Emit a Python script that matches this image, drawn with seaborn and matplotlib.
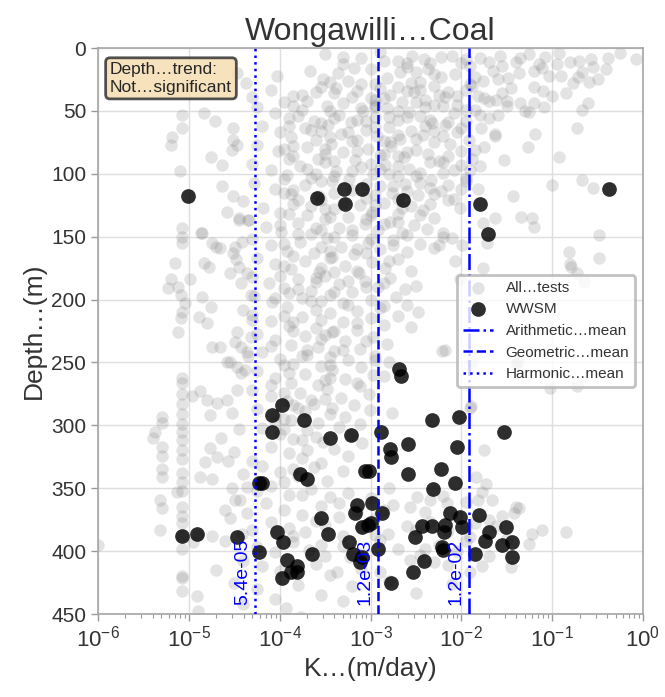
import matplotlib
matplotlib.use("Agg")
import numpy as np
import pandas as pd
import seaborn as sns
import matplotlib.pyplot as plt

# ---------------- data ----------------
title = "Wongawilli…Coal"
x_label = "K…(m/day)"
y_label = "Depth…(m)"
trend_text = "Depth…trend:\nNot…significant"
legend_all = "All…tests"
legend_wwsm = "WWSM"
mean_names = ["Arithmetic…mean", "Geometric…mean", "Harmonic…mean"]
mean_values = [1.2e-2, 1.2e-3, 5.4e-5]
mean_labels = ["1.2e-02", "1.2e-03", "5.4e-05"]

# all tests: (depth m, log10 K)
all_tests_0_30 = [(8,-3.10),(6,-2.54),(9,-2.41),(7,-2.22),(8,-1.80),(6,-1.57),(5,-1.26),(7,-1.08),(4,-0.93),(9,-0.57),(8,-0.38),(9,-0.08),(3,-2.90),(12,-2.00),(11,-1.40),(4,-0.25),(13,-3.30),(10,-2.70),(14,-1.90),(11,-0.80),(13,-1.15),(12,-2.35),
    (22,-4.03),(18,-3.67),(25,-3.52),(20,-3.36),(16,-3.18),(24,-2.82),(19,-2.68),(27,-2.45),(17,-2.37),(23,-2.22),(21,-2.07),(26,-1.76),(18,-1.65),(24,-1.49),(20,-1.36),(16,-1.11),(22,-1.03),(28,-0.77),(19,-0.67),(25,-0.49),(17,-0.41),(20,-4.47),(28,-4.37),(23,-0.72),(27,-0.60),(29,-2.95),(26,-3.25),(15,-2.60),(29,-1.90),(28,-2.55)]
all_tests_30_90 = [(33,-4.10),(38,-3.85),(42,-3.70),(31,-3.55),(36,-3.40),(44,-3.30),(34,-3.15),(40,-3.00),(32,-2.90),(37,-2.78),(43,-2.65),(35,-2.52),(41,-2.40),(30,-2.30),(39,-2.18),(45,-2.05),(33,-1.95),(38,-1.82),(42,-1.70),(36,-1.55),(44,-1.35),(31,-1.20),(38,-1.00),(43,-3.95),(35,-3.60),(40,-2.85),(34,-2.60),(45,-2.95),(37,-2.25),(41,-1.62),(32,-3.38),(39,-4.30),(44,-0.61),
    (47,-4.25),(52,-4.05),(56,-3.90),(49,-3.75),(58,-3.62),(46,-3.48),(53,-3.35),(59,-3.22),(50,-3.08),(55,-2.95),(48,-2.82),(57,-2.70),(51,-2.58),(54,-2.45),(60,-2.32),(46,-2.20),(52,-2.08),(58,-1.95),(49,-1.85),(56,-1.70),(53,-1.60),(47,-1.09),(51,-1.25),(49,-0.67),(53,-5.07),(52,-4.83),(58,-4.71),(57,-3.15),(55,-2.60),(60,-3.55),(47,-2.95),(50,-3.45),
    (62,-4.20),(67,-4.00),(71,-3.88),(64,-3.72),(73,-3.60),(61,-3.47),(68,-3.33),(74,-3.20),(65,-3.05),(70,-2.93),(63,-2.80),(72,-2.68),(66,-2.55),(69,-2.42),(75,-2.30),(61,-2.18),(67,-2.05),(73,-1.92),(64,-1.78),(70,-1.63),(68,-1.19),(71,-5.18),(64,-5.07),(64,-4.51),(73,-4.51),(64,-0.73),(68,-1.63),(66,-3.55),(74,-2.85),(62,-2.40),
    (77,-4.25),(82,-4.02),(86,-3.85),(79,-3.70),(88,-3.58),(76,-3.43),(83,-3.30),(89,-3.17),(80,-3.03),(85,-2.90),(78,-2.77),(87,-2.63),(81,-2.50),(84,-2.37),(90,-2.25),(76,-2.12),(82,-2.00),(88,-1.88),(79,-1.75),(77,-5.20),(87,-4.76),(77,-4.47),(81,-4.53),(79,-1.27),(89,-1.53),(87,-0.92),(84,-3.50),(86,-2.70),(80,-3.95)]
all_tests_90_165 = [(92,-4.30),(97,-4.10),(101,-3.92),(94,-3.78),(103,-3.65),(91,-3.50),(98,-3.38),(104,-3.24),(95,-3.10),(100,-2.97),(93,-2.84),(102,-2.70),(96,-2.58),(99,-2.45),(105,-2.33),(91,-2.20),(97,-2.08),(103,-1.95),(94,-1.80),(93,-4.64),(98,-5.10),(105,-0.67),(100,-3.60),(96,-2.90),(102,-3.40),
    (107,-4.28),(112,-4.05),(116,-3.88),(109,-3.72),(118,-3.57),(106,-3.42),(113,-3.20),(119,-3.05),(110,-2.90),(115,-2.76),(108,-2.62),(117,-2.48),(111,-2.35),(114,-2.22),(120,-2.08),(106,-1.95),(112,-1.82),(110,-4.64),(118,-4.51),(109,-1.00),(111,-0.55),(118,-1.43),(115,-3.95),(120,-2.70),
    (122,-4.40),(127,-4.18),(131,-4.00),(124,-3.85),(133,-3.70),(121,-3.55),(128,-3.40),(134,-3.25),(125,-3.12),(130,-2.98),(123,-2.85),(132,-2.70),(126,-2.55),(129,-2.42),(135,-2.30),(121,-2.15),(127,-2.02),(130,-4.58),(134,-1.34),(135,-1.22),(135,-1.63),(135,-4.45),(133,-3.00),(126,-3.65),
    (137,-4.35),(142,-4.15),(146,-3.98),(139,-3.80),(148,-3.66),(136,-3.50),(143,-3.35),(149,-3.20),(140,-3.06),(145,-2.92),(138,-2.78),(147,-2.65),(141,-2.52),(144,-2.38),(150,-2.20),(137,-4.34),(139,-1.76),(142,-1.20),(147,-2.20),(149,-0.48),(143,-5.07),(150,-5.07),(147,-4.85),(147,-4.87),(137,-4.45),(145,-3.55),
    (152,-4.30),(157,-4.10),(161,-3.92),(154,-3.78),(163,-3.62),(151,-3.48),(158,-3.33),(164,-3.18),(155,-3.03),(160,-2.90),(153,-2.75),(162,-2.60),(156,-2.45),(159,-2.30),(155,-5.07),(155,-4.74),(159,-4.66),(163,-4.51),(154,-4.41),(158,-4.70),(158,-4.49),(157,-2.25),(151,-2.10),(157,-1.99),(155,-1.72),(162,-0.82),(167,-0.48),(161,-3.45)]
all_tests_165_255 = [(167,-4.25),(172,-4.05),(176,-3.88),(169,-3.72),(178,-3.57),(166,-3.42),(173,-3.28),(179,-3.13),(170,-2.98),(175,-2.84),(168,-2.70),(177,-2.55),(171,-5.15),(171,-4.83),(174,-4.78),(174,-4.45),(168,-4.48),(179,-4.55),(179,-4.36),(169,-2.07),(175,-1.76),(172,-0.80),(174,-0.79),(179,-0.73),(178,-3.40),
    (182,-4.30),(187,-4.12),(191,-3.95),(184,-3.80),(193,-3.65),(181,-3.50),(188,-3.35),(194,-3.20),(185,-3.06),(190,-2.92),(183,-2.78),(192,-2.62),(184,-5.20),(191,-5.23),(190,-5.12),(184,-4.99),(187,-4.43),(184,-2.01),(186,-0.65),(189,-2.50),(195,-3.90),(186,-3.60),
    (197,-4.28),(202,-4.08),(206,-3.92),(199,-3.75),(208,-3.60),(196,-3.45),(203,-3.30),(209,-3.15),(200,-3.00),(205,-2.85),(198,-2.72),(196,-5.09),(203,-5.04),(210,-5.07),(198,-4.86),(206,-4.76),(196,-4.32),(208,-4.40),(210,-2.48),(204,-2.60),(201,-3.55),
    (212,-4.30),(217,-4.10),(221,-3.90),(214,-3.75),(223,-3.60),(211,-3.45),(218,-3.30),(224,-3.15),(215,-3.00),(220,-2.85),(213,-2.70),(215,-5.09),(214,-4.89),(219,-4.80),(216,-4.30),(222,-2.55),(218,-3.85),(225,-3.40),
    (227,-4.25),(232,-4.05),(236,-3.88),(229,-3.72),(238,-3.58),(226,-3.42),(233,-3.28),(239,-3.12),(230,-2.97),(235,-2.82),(226,-5.12),(226,-4.47),(230,-4.32),(238,-4.74),(238,-4.66),(238,-4.43),(234,-4.49),(240,-2.18),(240,-3.70),(231,-3.55),
    (242,-4.20),(247,-4.00),(251,-3.85),(244,-3.70),(253,-3.55),(241,-3.40),(248,-3.25),(254,-3.10),(245,-2.95),(250,-2.80),(242,-4.36),(245,-4.35),(250,-4.58),(254,-4.47),(250,-4.55),(241,-2.21),(250,-1.88),(250,-1.38),(251,-1.40),(252,-3.95),(246,-3.45)]
all_tests_255_345 = [(257,-4.25),(262,-4.05),(266,-3.88),(259,-3.72),(268,-3.58),(256,-3.42),(263,-3.28),(269,-3.12),(260,-2.97),(256,-4.38),(258,-4.43),(266,-5.07),(262,-5.07),(269,-0.73),(270,-1.02),(264,-3.50),(268,-4.10),(261,-2.85),
    (272,-4.30),(277,-4.10),(281,-3.92),(274,-3.78),(283,-3.62),(271,-3.48),(278,-3.33),(284,-3.18),(275,-3.02),(277,-4.97),(273,-4.88),(280,-4.80),(282,-4.69),(280,-4.58),(272,-4.47),(275,-5.07),(283,-5.07),(285,-1.89),(280,-3.65),(284,-3.85),
    (287,-4.25),(292,-4.05),(296,-3.88),(289,-3.72),(298,-3.58),(286,-3.42),(293,-3.28),(299,-3.12),(292,-4.77),(290,-4.52),(293,-5.30),(298,-5.30),(291,-5.07),(299,-5.07),(290,-2.76),(288,-3.01),(286,-1.91),(295,-3.95),
    (302,-4.20),(307,-4.00),(311,-3.85),(304,-3.70),(313,-3.52),(301,-3.35),(308,-3.20),(305,-5.37),(310,-5.40),(305,-5.07),(312,-5.07),(317,-5.29),(310,-4.65),(314,-3.09),(303,-4.45),(309,-3.60),(320,-1.75),
    (318,-4.77),(325,-4.69),(329,-4.82),(328,-4.57),(324,-5.30),(320,-5.07),(327,-5.07),(317,-4.10),(322,-3.90),(326,-3.75),(330,-3.55),(319,-3.40),(324,-3.25),(328,-4.30),(321,-4.50),
    (341,-4.88),(343,-4.74),(341,-5.30),(335,-5.29),(338,-5.07),(345,-5.07),(332,-4.20),(337,-4.00),(340,-3.80),(333,-3.62),(344,-3.48),(336,-3.30),(341,-1.84),(339,-4.40),(345,-3.95)]
all_tests_345_450 = [(347,-1.73),(353,-1.77),(359,-1.66),(359,-1.82),(357,-2.49),(359,-2.35),(350,-4.52),(349,-4.36),(359,-4.49),(359,-4.44),(353,-5.13),(359,-5.32),(352,-5.07),(348,-4.10),(355,-3.90),(351,-3.65),(357,-3.45),(354,-3.25),(358,-3.00),(350,-2.80),(356,-2.20),(352,-4.25),
    (362,-2.16),(365,-2.57),(365,-1.40),(370,-1.42),(366,-1.36),(370,-4.36),(366,-5.30),(365,-5.07),(372,-5.07),(362,-4.15),(367,-3.95),(371,-3.75),(364,-3.55),(373,-3.35),(368,-3.15),(374,-2.95),(363,-2.75),(369,-2.40),(375,-1.69),(372,-2.05),(361,-1.95),(374,-4.55),(367,-4.60),
    (380,-1.62),(386,-1.22),(383,-1.11),(380,-2.60),(386,-2.81),(383,-4.30),(386,-4.41),(383,-5.32),(378,-5.07),(388,-5.07),(377,-4.10),(382,-3.90),(385,-3.72),(379,-3.50),(388,-3.30),(381,-3.10),(387,-2.95),(377,-2.35),(384,-2.15),(389,-1.90),(378,-1.85),(390,-1.50),(388,-4.75),(387,-4.90),(385,-0.85),
    (394,-1.25),(395,-6.00),(392,-4.60),(397,-4.25),(401,-4.05),(393,-3.85),(399,-3.68),(404,-3.50),(396,-3.30),(402,-3.10),(391,-2.90),(398,-2.70),(403,-2.45),(395,-2.25),(400,-2.05),(392,-1.95),(405,-3.23),(398,-5.07),(393,-4.95),(404,-1.70),
    (407,-2.57),(413,-1.45),(417,-1.91),(412,-1.77),(417,-2.90),(417,-3.37),(408,-4.40),(412,-4.20),(416,-4.00),(410,-3.60),(419,-3.45),(414,-3.10),(409,-2.30),(420,-5.07),(415,-4.70),(411,-2.15),
    (421,-5.07),(432,-5.07),(436,-4.91),(448,-4.90),(445,-3.93),(452,-3.77),(425,-4.50),(430,-4.25),(438,-4.05),(427,-3.80),(435,-3.55),(428,-3.20),(424,-2.80),(433,-2.50),(426,-2.10),(440,-3.30),(442,-4.40)]
# additional tests in the densest parts of the cloud
all_tests_dense_upper = [(5,-3.50),(7,-3.30),(10,-2.85),(12,-2.60),(6,-2.10),(9,-1.95),(11,-1.70),(14,-1.55),(8,-1.35),(13,-0.95),(10,-0.70),(15,-0.55),(17,-3.00),(19,-2.50),(21,-2.30),(23,-1.85),(25,-1.60),(18,-1.20),(22,-0.90),(27,-3.45),(29,-3.10),(31,-2.70),(33,-2.45),(35,-2.15),(30,-1.88),(32,-1.45),(34,-1.10),(36,-0.85),(39,-3.20),(41,-2.95),(43,-2.50),(45,-2.30),(38,-2.05),(40,-1.75),(42,-1.50),(44,-1.20),(37,-3.75),(46,-3.85),(48,-3.10),(50,-2.70),(47,-2.40),(49,-1.95),(46,-1.50),(50,-1.30),
    (54,-3.80),(56,-3.40),(58,-3.05),(55,-2.80),(57,-2.35),(59,-2.15),(53,-1.80),(62,-3.90),(65,-3.65),(67,-3.25),(63,-2.95),(69,-2.70),(66,-2.30),(64,-2.00),(71,-3.45),(73,-3.15),(75,-2.78),(72,-2.50),(70,-2.20),(78,-3.85),(80,-3.50),(82,-3.15),(84,-2.85),(83,-2.60),(86,-2.15),(81,-1.85),(88,-3.90),(90,-3.40),(92,-3.00),(94,-2.70),(91,-2.35),(93,-2.00),(96,-3.70),(98,-3.20),(100,-2.80),(102,-2.50),(99,-2.20),(97,-1.90),(104,-3.95),(106,-3.55),(108,-3.05),(110,-2.75),(107,-2.45),(109,-2.15),(113,-3.85),(115,-3.40),(117,-2.95),(114,-2.60),(116,-2.30),(112,-2.00),(121,-3.80),(123,-3.30),(125,-2.95),(127,-2.65),(124,-2.35),(128,-3.50)]
all_tests_dense_lower = [(132,-3.90),(134,-3.45),(136,-3.05),(138,-2.70),(133,-2.45),(141,-4.00),(143,-3.60),(145,-3.20),(140,-2.85),(148,-3.80),(150,-3.40),(152,-3.00),(149,-2.60),(156,-3.95),(158,-3.55),(160,-3.15),(157,-2.75),(165,-3.85),(167,-3.45),(163,-3.05),(169,-2.80),(173,-3.95),(175,-3.55),(177,-3.15),(181,-4.00),(183,-3.60),(185,-3.25),(187,-2.85),(192,-3.80),(194,-3.40),(190,-3.05),(199,-4.05),(201,-3.65),(204,-3.25),(207,-2.90),(213,-3.95),(216,-3.55),(219,-3.15),(225,-3.85),(228,-3.50),(233,-3.05),(237,-4.10),(240,-3.30),(245,-3.75),(248,-2.95),(252,-3.45),
    (258,-3.90),(262,-3.45),(266,-3.15),(274,-3.95),(279,-3.50),(286,-3.80),(291,-3.45),(297,-4.05),(303,-3.95),(312,-3.75),(320,-3.70),(335,-3.85),(355,-3.75),(362,-3.35),(367,-2.85),(376,-3.60),(383,-2.50),(388,-3.85),(380,-1.95),(372,-1.55),(395,-3.55),(398,-2.40)]

# WWSM tests: (depth m, log10 K)
wwsm_tests = [(118,-5.01),(119,-3.59),(112,-3.29),(124,-3.28),(112,-3.09),(121,-2.64),(124,-1.80),(148,-1.71),(112,-0.37),
    (255,-2.69),(261,-2.66),
    (284,-3.97),(292,-4.08),(305,-4.08),(296,-3.73),(310,-3.45),(308,-3.22),(305,-2.88),(319,-2.79),(325,-2.77),(336,-3.06),(336,-3.02),(346,-4.23),(346,-4.19),(339,-3.78),(343,-3.70),
    (388,-5.08),(386,-4.91),(389,-4.47),(401,-4.23),(385,-4.03),(393,-3.96),(407,-3.92),(412,-3.81),(417,-3.81),(421,-3.97),(417,-3.87),(402,-3.64),(374,-3.54),(386,-3.47),(393,-3.24),(402,-3.19),(363,-3.15),(370,-3.17),(381,-3.09),(379,-3.03),(378,-2.99),(409,-3.12),(405,-3.09),(362,-2.98),(370,-2.87),(398,-2.92),(425,-2.77),
    (296,-2.32),(293,-2.03),(305,-1.53),(315,-2.59),(339,-2.59),(317,-2.05),(335,-2.22),(346,-2.07),(351,-2.31),(380,-2.43),(380,-2.32),(389,-2.51),(379,-2.18),(385,-2.19),(370,-2.12),(373,-2.02),(381,-1.99),(397,-2.21),(399,-2.20),(408,-2.41),(417,-2.53),(371,-1.81),(385,-1.70),(392,-1.74),(402,-1.85),(381,-1.51),(395,-1.55),(393,-1.44),(405,-1.44)]

all_pairs = (all_tests_0_30 + all_tests_30_90 + all_tests_90_165 + all_tests_165_255
             + all_tests_255_345 + all_tests_345_450 + all_tests_dense_upper + all_tests_dense_lower)
all_df = pd.DataFrame(all_pairs, columns=["depth", "logK"])
all_df["K"] = 10.0 ** all_df["logK"]
ww_df = pd.DataFrame(wwsm_tests, columns=["depth", "logK"])
ww_df["K"] = 10.0 ** ww_df["logK"]

# ---------------- style ----------------
sns.set_theme(style="whitegrid")
plt.rcParams["font.family"] = ["Liberation Sans", "DejaVu Sans"]
plt.rcParams.update({
    "mathtext.fontset": "custom",
    "mathtext.rm": "Liberation Sans",
    "mathtext.it": "Liberation Sans:italic",
    "mathtext.bf": "Liberation Sans:bold",
    "axes.edgecolor": "0.65",
    "axes.linewidth": 1.2,
    "xtick.bottom": True,
    "ytick.left": True,
    "xtick.color": "0.6",
    "ytick.color": "0.6",
    "xtick.labelcolor": "0.2",
    "ytick.labelcolor": "0.2",
    "grid.color": "0.87",
    "grid.linewidth": 1.0,
})

fig = plt.figure(figsize=(6.65, 6.97), dpi=100)
ax = fig.add_axes([98/665, 83/697, 545/665, 566/697])

sns.scatterplot(data=all_df, x="K", y="depth", color="gray", alpha=0.22, s=80,
                linewidth=0, ax=ax, label=legend_all, zorder=2)
sns.scatterplot(data=ww_df, x="K", y="depth", color="black", alpha=0.82, s=112,
                linewidth=0, ax=ax, label=legend_wwsm, zorder=3)

styles = ["-.", "--", ":"]
for name, val, ls, lab in zip(mean_names, mean_values, styles, mean_labels):
    ax.axvline(val, color="blue", linestyle=ls, linewidth=1.8, label=name, zorder=4)
    ax.annotate(lab, xy=(val, 443), xytext=(-3, 0), textcoords="offset points",
                rotation=90, ha="right", va="bottom", color="blue", fontsize=14, zorder=5)

ax.set_xscale("log")
ax.set_xlim(1e-6, 1)
ax.set_ylim(450, 0)
ax.set_yticks(np.arange(0, 451, 50))
ax.tick_params(axis="y", which="major", labelsize=15, length=5, width=1)
ax.tick_params(axis="x", which="major", labelsize=16, length=5, width=1)
ax.tick_params(axis="x", which="minor", length=3, width=0.8, bottom=True)
ax.set_xlabel(x_label, fontsize=19, color="0.2")
ax.set_ylabel(y_label, fontsize=19, color="0.2")
ax.set_title(title, fontsize=23, color="0.2")

ax.text(0.022, 0.975, trend_text, transform=ax.transAxes, ha="left", va="top",
        fontsize=12.5, color="0.15", zorder=6,
        bbox=dict(boxstyle="round,pad=0.25", facecolor="wheat", edgecolor="0.2",
                  linewidth=2, alpha=0.85))

leg = ax.legend(loc="center right", fontsize=11, frameon=True, framealpha=0.8,
                edgecolor="0.7")
leg.get_frame().set_linewidth(2)
for t in leg.get_texts():
    t.set_color("0.2")

fig.savefig("out.png", dpi=100)
